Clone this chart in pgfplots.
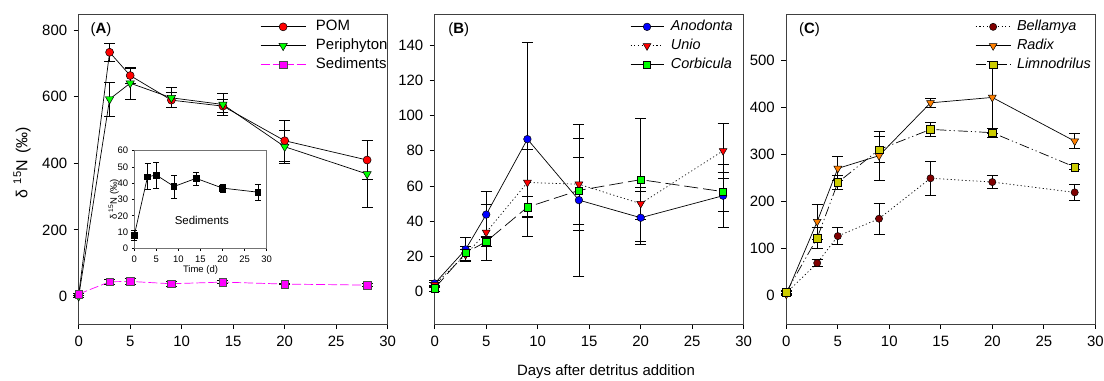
\documentclass[border=0pt]{standalone}
\usepackage{fontspec}
\setmainfont{Liberation Sans}
\usepackage{pgfplots}
\pgfplotsset{compat=1.18}

\definecolor{cBlue}{RGB}{0,0,255}
\definecolor{cRed}{RGB}{255,0,0}
\definecolor{cGreen}{RGB}{0,255,0}
\definecolor{cMag}{RGB}{255,0,255}
\definecolor{cDark}{RGB}{128,0,0}
\definecolor{cOrange}{RGB}{255,128,0}
\definecolor{cOlive}{RGB}{204,204,0}
\definecolor{frame}{RGB}{64,64,64}

\pgfplotsset{
  panel/.style={
    scale only axis, width=309bp, height=310bp, anchor=south west,
    xmin=0, xmax=30, xtick={0,5,...,30},
    tick align=outside, xtick pos=left, ytick pos=left,
    major tick length=5bp,
    axis line style={frame, line width=0.8pt},
    tick style={black, line width=0.8pt},
    ticklabel style={font=\fontsize{15}{18}\selectfont},
    xticklabel style={yshift=-4bp},
    yticklabel style={xshift=-3bp},
    /pgf/number format/assume math mode=true,
    clip=false,
    legend cell align=left,
    legend style={draw=none, fill=none, anchor=north west,
      font=\fontsize{15}{18}\selectfont, row sep=3bp, inner sep=0pt,
      nodes={inner ysep=1bp, inner xsep=3bp, text height=11bp, text depth=3bp}},
  },
  eb/.style={
    error bars/.cd, y dir=both, y explicit,
    error bar style={black, solid, line width=0.7pt},
    error mark options={rotate=90, mark size=5.5bp, black, solid, line width=0.7pt},
  },
  legimg/.style={legend image code/.code={\draw[mark repeat=2,mark phase=2] plot coordinates {(0bp,0bp)(#1/2,0bp)(#1,0bp)};}},
  mk/.style={mark options={solid, draw=black, line width=0.5pt, fill=#1}},
}

\begin{document}
\begin{tikzpicture}
\useasboundingbox (0,0) rectangle (1104bp,381bp);

% ---------------- Panel A ----------------
\begin{axis}[panel, at={(78.7bp,57bp)}, legimg={45bp},
  ymin=-83, ymax=849, ytick={0,200,...,800},
  legend style={at={(rel axis cs:0.587,0.985)}}]
\addplot[black, line width=0.7pt, mark=*, mark size=4bp, mk=cRed, eb]
  table[x index=0, y index=1, y error index=2] {
0 5 3
3 734 28
5 664 22
9 590 22
14 572 20
20 468 62
28 410 59
};
\addlegendentry{\hspace{7bp}POM}
\addplot[black, line width=0.7pt, mark=triangle*, mark size=4.8bp, mark options={solid, draw=black, line width=0.5pt, fill=cGreen, rotate=180}, eb]
  table[x index=0, y index=1, y error index=2] {
0 0 2
3 593 52
5 641 48
9 597 30
14 577 32
20 450 50
28 368 100
};
\addlegendentry{\hspace{7bp}Periphyton}
\addplot[cMag, line width=0.7pt, dash pattern=on 9bp off 3bp, mark=square*, mark size=3.8bp, mark options={solid, draw=black!70, line width=0.5pt, fill=cMag}, eb]
  table[x index=0, y index=1, y error index=2] {
0 7 3
3 44 8
5 45 8
9 38 7
14 43 4
20 37 2
28 34 5
};
\addlegendentry{\hspace{7bp}Sediments}
\node[anchor=west, font=\fontsize{15}{18}\selectfont] at (rel axis cs:0.027,0.948) {(\textbf{A})};
\end{axis}

\node[rotate=90, font=\fontsize{16}{18}\selectfont] at (22bp,218bp) {δ\hspace{6bp}\textsuperscript{15}N\hspace{6bp}(‰)};

% ---------------- Inset ----------------
\begin{axis}[scale only axis, width=132.4bp, height=97.6bp, anchor=south west, at={(134.3bp,132.7bp)},
  xmin=0, xmax=30, ymin=0, ymax=60, xtick={0,5,...,30}, ytick={0,10,...,60},
  tick align=outside, xtick pos=left, ytick pos=left, major tick length=2.5bp,
  axis line style={black!55, line width=0.7pt},
  tick style={black, line width=0.6pt},
  ticklabel style={font=\fontsize{9.5}{11}\selectfont, inner sep=1.5bp},
  xticklabel style={yshift=-3.5bp},
  yticklabel style={xshift=-2bp},
  /pgf/number format/assume math mode=true,
  xlabel={Time (d)}, xlabel style={font=\fontsize{9.5}{11}\selectfont, at={(rel axis cs:0.5,-0.225)}, anchor=center},
  ylabel={δ \textsuperscript{15}N (‰)}, ylabel style={font=\fontsize{9.5}{11}\selectfont, at={(rel axis cs:-0.155,0.5)}, anchor=center},
  clip=false, axis background/.style={fill=white}]
\addplot[black, line width=0.7pt, mark=square*, mark size=2.8bp, mark options={solid, fill=black},
  error bars/.cd, y dir=both, y explicit, error bar style={black, line width=0.6pt},
  error mark options={rotate=90, mark size=3bp, black, line width=0.6pt}]
  table[x index=0, y index=1, y error index=2] {
0 8 3
3 44 8
5 45 8
9 38 7
14 43 4
20 37 2.5
28 34.5 5
};
\node[font=\fontsize{11.5}{13}\selectfont] at (axis cs:15.3,17) {Sediments};
\end{axis}

% ---------------- Panel B ----------------
\begin{axis}[panel, at={(434.7bp,57bp)}, legimg={33bp},
  ymin=-18.3, ymax=157.6, ytick={0,20,...,140},
  legend style={at={(rel axis cs:0.632,0.985)}, font=\fontsize{14.5}{18}\selectfont\itshape}]
\addplot[black, line width=0.7pt, mark=*, mark size=3.8bp, mk=cBlue, eb]
  table[x index=0, y index=1, y error index=2] {
0 4.7 1.5
3 24 7
5 43.8 13
9 86.6 55
14 52 43
20 42 15
28 54.5 18
};
\addlegendentry{\hspace{4bp}Anodonta}
\addplot[black, line width=0.7pt, dash pattern=on 1.2bp off 2.5bp, mark=triangle*, mark size=4.5bp, mark options={solid, draw=black, line width=0.5pt, fill=cRed, rotate=180}, eb]
  table[x index=0, y index=1, y error index=2] {
0 4 1.5
3 21 3
5 33.7 16
9 62 19
14 61 26
20 50 9
28 80 15.5
};
\addlegendentry{\hspace{4bp}Unio}
\addplot[black, line width=0.7pt, dash pattern=on 14bp off 5bp, mark=square*, mark size=3.6bp, mk=cGreen, eb]
  table[x index=0, y index=1, y error index=2] {
0 2 1.5
3 22 4
5 28.5 3
9 48 6
14 57.5 19
20 63.6 35
28 56.8 11
};
\addlegendentry{\hspace{4bp}Corbicula}
\node[anchor=west, font=\fontsize{15}{18}\selectfont] at (rel axis cs:0.033,0.948) {(\textbf{B})};
\end{axis}

% ---------------- Panel C ----------------
\begin{axis}[panel, at={(786.3bp,57bp)}, legimg={35bp},
  ymin=-61, ymax=598.5, ytick={0,100,...,500},
  legend style={at={(rel axis cs:0.611,0.985)}, font=\fontsize{14.5}{18}\selectfont\itshape}]
\addplot[black, line width=0.7pt, dash pattern=on 1.2bp off 2.5bp, mark=*, mark size=3.6bp, mk=cDark, eb]
  table[x index=0, y index=1, y error index=2] {
0 5 3
3 68.6 8
5 126 18
9 163 33
14 249 37
20 241 14
28 219 17
};
\addlegendentry{\hspace{3bp}Bellamya}
\addplot[black, line width=0.7pt, mark=triangle*, mark size=4.5bp, mark options={solid, draw=black, line width=0.5pt, fill=cOrange, rotate=180}, eb]
  table[x index=0, y index=1, y error index=2] {
0 2 2
3 157 37
5 270 25
9 297 52
14 409.5 10
20 421 76
28 328 16
};
\addlegendentry{\hspace{3bp}Radix}
\addplot[black, line width=0.7pt, dash pattern=on 10bp off 3bp on 1.2bp off 3bp on 1.2bp off 3bp, mark=square*, mark size=3.8bp, mk=cOlive, eb]
  table[x index=0, y index=1, y error index=2] {
0 7 3
3 122 23
5 240 15
9 310 28
14 353 15
20 346 10
28 273 5
};
\addlegendentry{\hspace{3bp}Limnodrilus}
\node[anchor=west, font=\fontsize{15}{18}\selectfont] at (rel axis cs:0.03,0.948) {(\textbf{C})};
\end{axis}

\node[font=\fontsize{15}{18}\selectfont] at (606bp,9bp) {Days after detritus addition};
\end{tikzpicture}
\end{document}
